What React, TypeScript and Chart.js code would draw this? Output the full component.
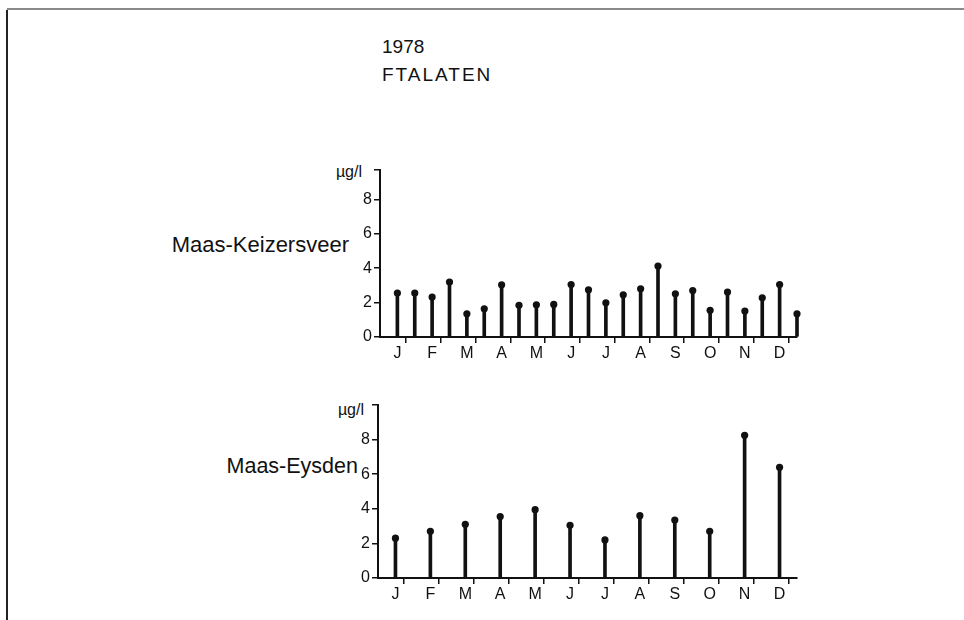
import React, { useEffect, useRef } from "react";
import { Chart, registerables } from "chart.js";

Chart.register(...registerables);

// Month initials along the time axis
const monthLabels = ["J", "F", "M", "A", "M", "J", "J", "A", "S", "O", "N", "D"];

// Maas-Keizersveer: twice-monthly samples (position in months from 1 Jan)
const keizersveerPos = [0.5, 1, 1.5, 2, 2.5, 3, 3.5, 4, 4.5, 5, 5.5, 6, 6.5, 7, 7.5, 8, 8.5, 9, 9.5, 10, 10.5, 11, 11.5, 12];
const keizersveerValues = [2.55, 2.55, 2.32, 3.19, 1.35, 1.64, 3.03, 1.84, 1.87, 1.89, 3.05, 2.74, 1.99, 2.45, 2.8, 4.12, 2.51, 2.7, 1.55, 2.61, 1.51, 2.28, 3.05, 1.35];

// Maas-Eysden: monthly samples
const eysdenPos = [0.5, 1.5, 2.5, 3.5, 4.5, 5.5, 6.5, 7.5, 8.5, 9.5, 10.5, 11.5];
const eysdenValues = [2.3, 2.7, 3.1, 3.55, 3.95, 3.05, 2.2, 3.6, 3.35, 2.7, 8.25, 6.4];

// Concentration axis ticks (µg/l)
const yTickValues = [0, 2, 4, 6, 8];

const INK = "#111";
const FONT = "'Liberation Sans', Arial, Helvetica, sans-serif";

function buildConfig(pos: number[], values: number[], yMax: number, padding: any) {
  const pts = pos.map((x, i) => ({ x, y: values[i] }));
  return {
    type: "bar" as const,
    data: {
      datasets: [
        {
          type: "bar" as const,
          data: pts,
          backgroundColor: INK,
          borderWidth: 0,
          barThickness: 3,
          clip: false as any,
        },
        {
          type: "scatter" as const,
          data: pts,
          backgroundColor: INK,
          borderColor: INK,
          borderWidth: 0,
          pointRadius: 3.6,
          showLine: false,
          clip: false as any,
        },
      ],
    },
    options: {
      animation: false as const,
      responsive: false,
      devicePixelRatio: 1,
      layout: { padding },
      plugins: { legend: { display: false }, tooltip: { enabled: false } },
      scales: {
        x: {
          type: "linear" as const,
          min: 0,
          max: 12,
          offset: false,
          afterBuildTicks: (scale: any) => {
            const t = [];
            for (let i = 0; i <= 24; i++) t.push({ value: i / 2 });
            scale.ticks = t;
          },
          afterFit: (scale: any) => {
            scale.height = 30;
          },
          ticks: {
            autoSkip: false,
            maxRotation: 0,
            minRotation: 0,
            padding: 1,
            color: INK,
            font: { family: FONT, size: 16 },
            callback: (v: number) => (v % 1 === 0.5 ? monthLabels[Math.floor(v)] : ""),
          },
          grid: {
            drawOnChartArea: false,
            tickLength: 6,
            lineWidth: 1.5,
            tickColor: (ctx: any) => (ctx.tick && ctx.tick.value % 1 === 0 ? INK : "rgba(0,0,0,0)"),
          },
          border: { display: true, color: INK, width: 2 },
        },
        y: {
          type: "linear" as const,
          min: 0,
          max: yMax,
          afterBuildTicks: (scale: any) => {
            scale.ticks = [...yTickValues, yMax].map((value) => ({ value }));
          },
          afterFit: (scale: any) => {
            scale.width = 50;
          },
          ticks: {
            padding: 2,
            color: INK,
            font: { family: FONT, size: 16 },
            callback: (v: number) => (yTickValues.includes(v) ? String(v) : ""),
          },
          grid: {
            drawOnChartArea: false,
            tickLength: 6,
            lineWidth: 1.5,
            color: INK,
          },
          border: { display: true, color: INK, width: 2 },
        },
      },
    },
  };
}

function StemChart(props: {
  pos: number[];
  values: number[];
  yMax: number;
  left: number;
  top: number;
  width: number;
  height: number;
  padding: any;
}) {
  const ref = useRef<HTMLCanvasElement | null>(null);
  useEffect(() => {
    if (!ref.current) return;
    const chart = new Chart(ref.current, buildConfig(props.pos, props.values, props.yMax, props.padding) as any);
    return () => chart.destroy();
  }, []);
  return (
    <canvas
      ref={ref}
      width={props.width}
      height={props.height}
      style={{ position: "absolute", left: props.left, top: props.top, width: props.width, height: props.height }}
    />
  );
}

function Label(props: { text: string; left?: number; right?: number; cy: number; size: number; spacing?: number }) {
  const style: any = {
    position: "absolute",
    top: props.cy - props.size / 2,
    fontFamily: FONT,
    fontSize: props.size,
    lineHeight: 1,
    color: INK,
    whiteSpace: "nowrap",
    letterSpacing: props.spacing ?? 0,
  };
  if (props.right !== undefined) {
    style.left = 0;
    style.width = props.right;
    style.textAlign = "right";
  } else {
    style.left = props.left;
  }
  return <div style={style}>{props.text}</div>;
}

export default function App() {
  return (
    <div
      style={{
        position: "fixed",
        left: 0,
        top: 0,
        width: 964,
        height: 620,
        background: "#fff",
        overflow: "hidden",
      }}
    >
      {/* page frame */}
      <div style={{ position: "absolute", left: 7, top: 8, width: 957, height: 2, background: "#8a8a8a" }} />
      <div style={{ position: "absolute", left: 6, top: 10, width: 2, height: 610, background: "#222" }} />

      <Label text="1978" left={382} cy={46} size={19} />
      <Label text="FTALATEN" left={382} cy={74} size={19} spacing={2} />

      <Label text="µg/l" right={362} cy={172} size={16} />
      <Label text="Maas-Keizersveer" right={349} cy={245} size={22} />
      <StemChart
        pos={keizersveerPos}
        values={keizersveerValues}
        yMax={9.7}
        left={320}
        top={150}
        width={500}
        height={220}
        padding={{ left: 10, right: 23, top: 20, bottom: 3 }}
      />

      <Label text="µg/l" right={364} cy={410} size={16} />
      <Label text="Maas-Eysden" right={358} cy={467} size={21.5} />
      <StemChart
        pos={eysdenPos}
        values={eysdenValues}
        yMax={10}
        left={320}
        top={385}
        width={500}
        height={225}
        padding={{ left: 8, right: 23, top: 20, bottom: 2 }}
      />
    </div>
  );
}
